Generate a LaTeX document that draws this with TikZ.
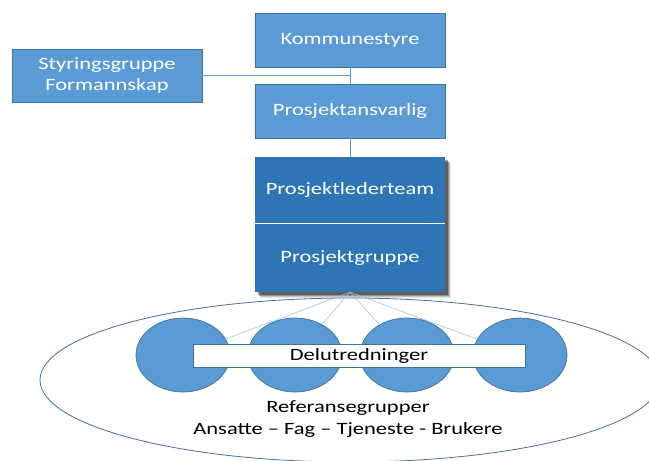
\documentclass[tikz,border=0pt]{standalone}
\usepackage{fontspec}
\setmainfont{Carlito}
\usetikzlibrary{shapes.geometric}
\definecolor{boxblue}{HTML}{5B9BD5}
\definecolor{darkblue}{HTML}{2E75B6}
\definecolor{edgeblue}{HTML}{41719C}
\definecolor{thinblue}{HTML}{9DC3E6}
\newcommand\wide[1]{\scalebox{1.3}[1]{#1}}
\tikzset{
  lightbox/.style={rectangle, draw=edgeblue, line width=0.7pt, fill=boxblue, text=white,
    minimum width=190pt, inner sep=0pt, font=\fontsize{17.3}{21}\selectfont, align=center},
  darkbox/.style={rectangle, fill=darkblue, text=white,
    minimum width=190pt, inner sep=0pt, font=\fontsize{17.3}{21}\selectfont},
  bubble/.style={ellipse, draw=edgeblue, line width=0.7pt, fill=boxblue,
    minimum width=94pt, minimum height=74pt, inner sep=0pt},
  link/.style={draw=boxblue, line width=0.8pt},
  fan/.style={draw=thinblue, line width=0.6pt},
  plain/.style={font=\fontsize{17.3}{22}\selectfont, text=black, align=center, inner sep=0pt}
}
\begin{document}
\begin{tikzpicture}[x=1pt,y=-1pt]
\useasboundingbox (0,0) rectangle (649,461);
\clip (0,0) rectangle (649,461);
\fill[white] (0,0) rectangle (649,461);

% top boxes
\node[lightbox, minimum height=54pt] (kom) at (350,40) {\wide{Kommunestyre}};
\node[lightbox, minimum height=54pt] (pa) at (350,111) {\wide{Prosjektansvarlig}};
\node[lightbox, minimum height=53pt] (sty) at (107,75.5) {\wide{Styringsgruppe}\\\wide{Formannskap}};
\coordinate (j) at (350,75.5);

% shadow of dark box
\foreach \d/\o in {6/0.10,5/0.15,4/0.25,3/0.35}
  \fill[black, opacity=\o] (255+\d,157+\d) rectangle (445+\d,292+\d);

% dark boxes
\node[darkbox, minimum height=66pt] (plt) at (350,190) {\wide{Prosjektlederteam}};
\node[darkbox, minimum height=69pt] (pg) at (350,257.5) {\wide{Prosjektgruppe}};
\draw[white, line width=1.2pt] (plt.south west) -- (plt.south east);

% connectors
\draw[link] (kom.south) -- (pa.north);
\draw[link] (sty.east) -- (j);
\draw[link] (pa.south) -- (plt.north);

% big ellipse
\node[ellipse, draw=edgeblue, line width=0.8pt, minimum width=620pt, minimum height=164pt, inner sep=0pt] (ref) at (350,380) {};

% bubbles
\node[bubble] (c1) at (183,355) {};
\node[bubble] (c2) at (295,355) {};
\node[bubble] (c3) at (407,355) {};
\node[bubble] (c4) at (520,355) {};
\foreach \c in {c1,c2,c3,c4}
  \draw[fan] (pg.south) -- (\c);

\node[rectangle, draw=edgeblue, line width=0.6pt, fill=white, minimum width=332pt, minimum height=23pt, inner sep=0pt, font=\fontsize{17.3}{21}\selectfont] (del) at (359,355.5) {\wide{Delutredninger}};

\node[plain] (reftext) at (348,419) {\wide{Referansegrupper}\\\wide{Ansatte – Fag – Tjeneste - Brukere}};
\end{tikzpicture}
\end{document}
